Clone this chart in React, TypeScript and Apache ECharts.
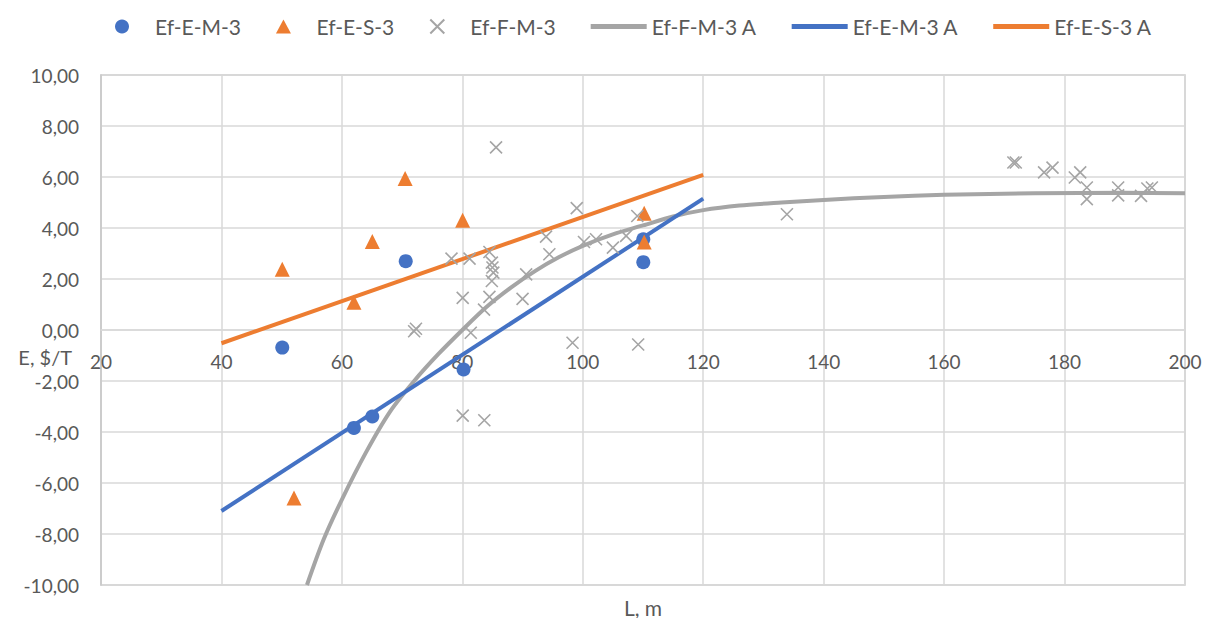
import React, { useEffect, useRef } from "react";
import * as echarts from "echarts";

const xTicks = { min: 20, max: 200, interval: 20 };
const yTicks = { min: -10, max: 10, interval: 2 };

const emPoints: number[][] = [
  [50.1, -0.69], [70.6, 2.7], [80.2, -1.55], [62.0, -3.84], [65.05, -3.39], [110.05, 2.66], [110.05, 3.56],
];
const esPoints: number[][] = [
  [50.1, 2.38], [62.0, 1.09], [65.05, 3.47], [70.5, 5.94], [80.05, 4.3], [52.05, -6.59], [110.2, 4.58], [110.2, 3.45],
];
const fmPoints: number[][] = [
  [85.6, 7.16], [72.0, -0.05], [72.3, 0.05], [78.2, 2.8], [81.2, 2.8], [84.5, 3.06], [84.9, 2.64], [85.0, 2.45],
  [85.15, 2.25], [84.9, 1.92], [84.5, 1.3], [83.6, 0.8], [80.06, 1.26], [81.4, -0.11], [90.6, 2.18], [90.0, 1.22],
  [93.9, 3.66], [94.45, 2.97], [99.0, 4.78], [100.2, 3.45], [102.2, 3.56], [105.0, 3.23], [107.2, 3.69],
  [109.05, 4.47], [98.3, -0.5], [109.2, -0.57], [80.06, -3.36], [83.65, -3.54], [133.9, 4.54], [171.5, 6.57],
  [171.9, 6.57], [176.6, 6.18], [178.0, 6.37], [181.7, 5.98], [182.6, 6.18], [183.7, 5.59], [183.7, 5.13],
  [188.9, 5.59], [188.9, 5.28], [192.7, 5.26], [193.75, 5.55], [194.5, 5.59],
];
const fmCurve: number[][] = [
  [54.2, -10], [57, -8.2], [60, -6.65], [64, -4.8], [68, -3.2], [72, -2.0], [76, -0.95], [80, 0.0],
  [84, 0.9], [88, 1.65], [92, 2.3], [96, 2.85], [100, 3.3], [105, 3.75], [110, 4.1], [115, 4.45],
  [120, 4.7], [126, 4.88], [133, 5.0], [140, 5.1], [150, 5.22], [160, 5.3], [175, 5.36], [190, 5.38], [200, 5.36],
];
const emLine: number[][] = [[40, -7.1], [120, 5.15]];
const esLine: number[][] = [[40, -0.52], [120, 6.08]];

const BLUE = "#4472c4";
const ORANGE = "#ed7d31";
const GREY = "#a5a5a5";
const TXT = "#595959";
const FONT = "Lato, 'Open Sans', sans-serif";

const LINE_ICON = "path://M0,0L56,0L56,5L0,5Z";
const legendItems = [
  { name: "Ef-E-M-3", icon: "circle" },
  { name: "Ef-E-S-3", icon: "path://M7.5,0L15,14L0,14Z" },
  { name: "Ef-F-M-3", icon: "path://M0,0L10,10M10,0L0,10" },
  { name: "Ef-F-M-3 A", icon: LINE_ICON },
  { name: "Ef-E-M-3 A", icon: LINE_ICON },
  { name: "Ef-E-S-3 A", icon: LINE_ICON },
];

export default function App() {
  const ref = useRef<HTMLDivElement>(null);
  useEffect(() => {
    if (!ref.current) return;
    const chart = echarts.init(ref.current, null, { renderer: "svg" });
    const fmt = (v: number) => v.toFixed(2).replace(".", ",");
    chart.setOption({
      animation: false,
      backgroundColor: "#ffffff",
      textStyle: { fontFamily: FONT },
      legend: {
        data: legendItems,
        left: 110,
        top: 11,
        itemWidth: 56,
        itemHeight: 14,
        itemGap: 35,
        symbolKeepAspect: true,
        textStyle: { color: TXT, fontSize: 21, fontFamily: FONT },
      },
      grid: {
        left: 101, right: 30, top: 75, bottom: 33,
        show: true, borderColor: "#c8c8c8", borderWidth: 1.5,
      },
      xAxis: {
        type: "value",
        min: xTicks.min, max: xTicks.max, interval: xTicks.interval,
        offset: -255,
        axisLine: { onZero: false, lineStyle: { color: "#d9d9d9", width: 1.5 } },
        axisTick: { show: false },
        axisLabel: { color: TXT, fontSize: 19, margin: 22, fontFamily: FONT, showMinLabel: true, showMaxLabel: true },
        splitLine: { lineStyle: { color: "#d9d9d9", width: 1.5 } },
      },
      yAxis: {
        type: "value",
        min: yTicks.min, max: yTicks.max, interval: yTicks.interval,
        axisLine: { show: true, onZero: false, lineStyle: { color: "#c8c8c8", width: 1.5 } },
        axisTick: { show: false },
        axisLabel: { color: TXT, fontSize: 19, margin: 22, fontFamily: FONT, formatter: fmt },
        splitLine: { lineStyle: { color: "#d9d9d9", width: 1.5 } },
      },
      graphic: [
        {
          type: "text", x: 72, y: 357,
          style: { text: "E, $/T", fill: TXT, fontSize: 20, fontFamily: FONT, align: "right", verticalAlign: "middle" },
        },
        {
          type: "text", x: 643, y: 607,
          style: { text: "L, m", fill: TXT, fontSize: 21, fontFamily: FONT, align: "center", verticalAlign: "middle" },
        },
      ],
      series: [
        {
          name: "Ef-F-M-3 A", type: "line", data: fmCurve, symbol: "none", smooth: 0.3,
          lineStyle: { color: GREY, width: 4 }, itemStyle: { color: GREY }, z: 2,
        },
        {
          name: "Ef-E-M-3 A", type: "line", data: emLine, symbol: "none",
          lineStyle: { color: BLUE, width: 4 }, itemStyle: { color: BLUE }, z: 3,
        },
        {
          name: "Ef-E-S-3 A", type: "line", data: esLine, symbol: "none",
          lineStyle: { color: ORANGE, width: 4 }, itemStyle: { color: ORANGE }, z: 3,
        },
        {
          name: "Ef-E-M-3", type: "scatter", data: emPoints, symbol: "circle", symbolSize: 14,
          itemStyle: { color: BLUE, opacity: 1 }, z: 4,
        },
        {
          name: "Ef-E-S-3", type: "scatter", data: esPoints, symbol: "triangle", symbolSize: 15,
          itemStyle: { color: ORANGE, opacity: 1 }, z: 5,
        },
        {
          name: "Ef-F-M-3", type: "scatter", data: fmPoints, symbol: "path://M0,0L10,10M10,0L0,10", symbolSize: 12,
          itemStyle: { color: "rgba(0,0,0,0)", borderColor: GREY, borderWidth: 1.6, opacity: 1 }, z: 6,
        },
      ],
    });
    return () => chart.dispose();
  }, []);
  return (
    <div
      ref={ref}
      style={{ position: "fixed", left: 0, top: 0, width: 1215, height: 618, background: "#fff" }}
    />
  );
}
